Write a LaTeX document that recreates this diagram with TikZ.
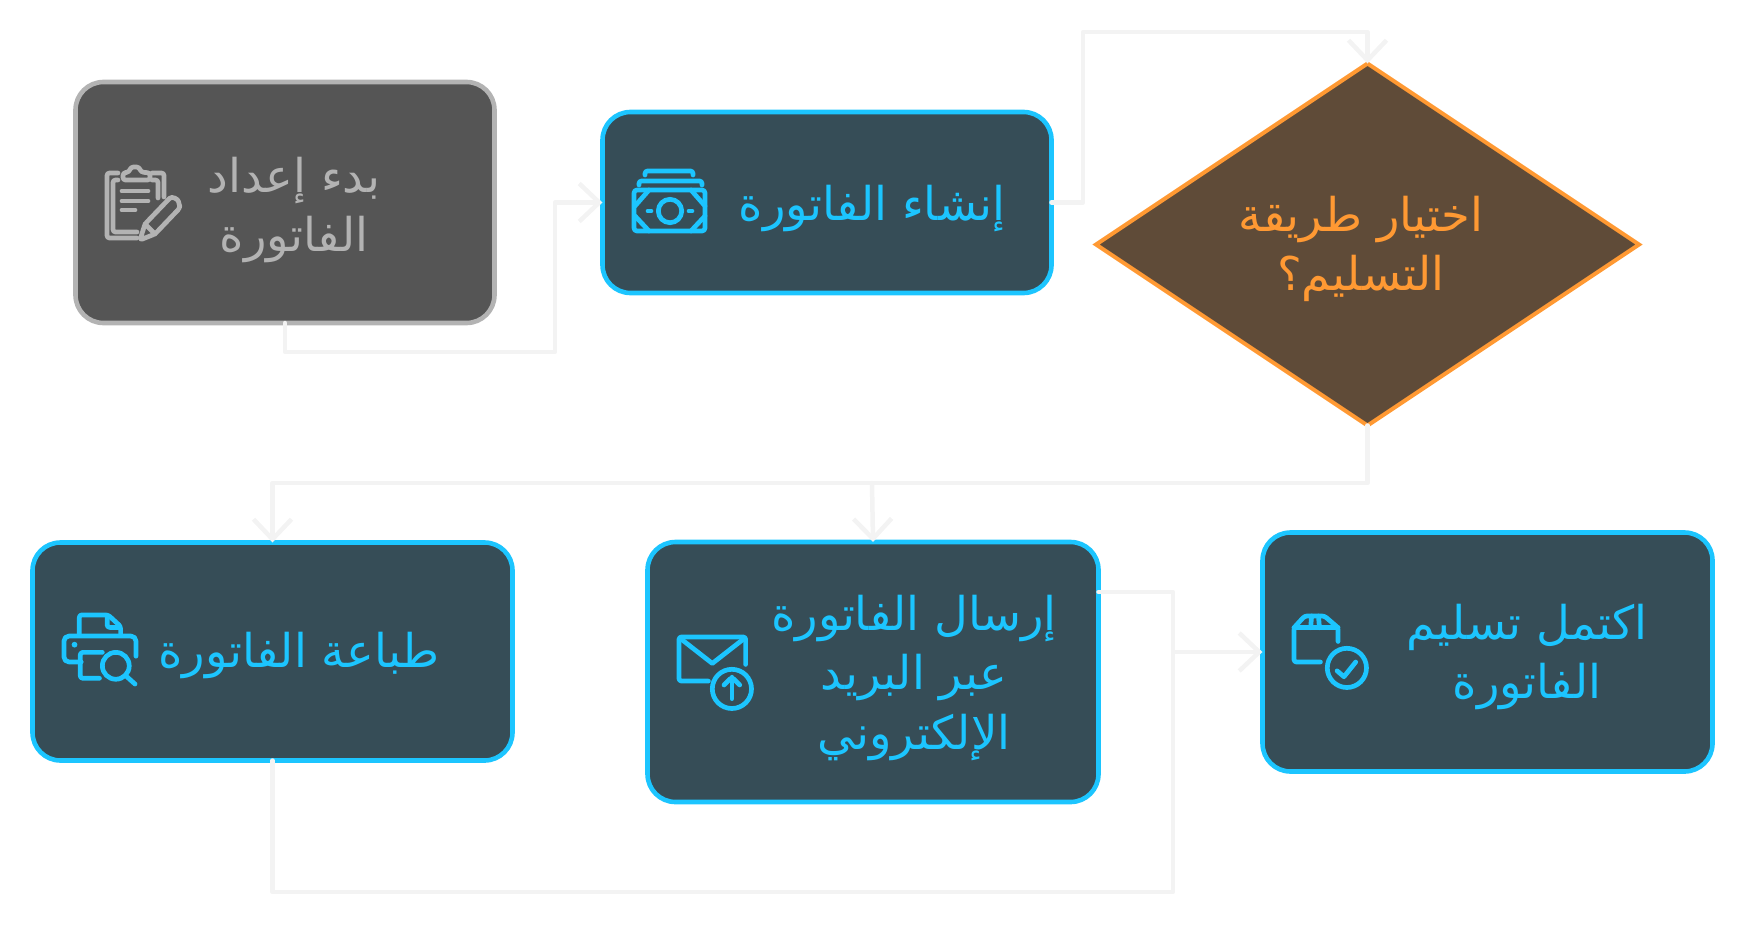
\documentclass[tikz,border=0pt]{standalone}
\usepackage{fontspec}
\usetikzlibrary{shapes.geometric,arrows.meta}
\TeXXeTstate=1
\newfontfamily\arabicfont[Script=Arabic]{DejaVu Sans}
\newcommand{\ar}[1]{\beginR #1\endR}
\definecolor{blueline}{HTML}{1CC5FF}
\definecolor{bluefill}{HTML}{364D57}
\definecolor{greyline}{HTML}{B3B3B3}
\definecolor{greyfill}{HTML}{555555}
\definecolor{orangeline}{HTML}{FF9933}
\definecolor{orangefill}{HTML}{5F4B38}
\definecolor{edgecol}{HTML}{F3F3F3}
\tikzset{
  x=1pt,y=-1pt,
  box/.style={rectangle,rounded corners=28pt,line width=4.6pt,inner sep=0pt,outer sep=0pt},
  bluebox/.style={box,draw=blueline,fill=bluefill},
  greybox/.style={box,draw=greyline,fill=greyfill},
  decision/.style={diamond,aspect=1.5,draw=orangeline,fill=orangefill,line width=4pt,inner sep=0pt,outer sep=0pt,minimum width=543pt,minimum height=362pt},
  label/.style={align=center,inner sep=0pt,font=\arabicfont\fontsize{46.5}{59.5}\selectfont},
  edge/.style={draw=edgecol,line width=4.5pt,line cap=round,line join=round},
  arrowedge/.style={edge,-{Straight Barb[length=20pt,width=38pt,line width=4.5pt]}},
  icon/.style={line width=4.7pt,line cap=round,line join=round,rounded corners=2.5pt},
}
\begin{document}
\begin{tikzpicture}
\useasboundingbox (0,0) rectangle (1745,926);
% nodes
\node[greybox,minimum width=419pt,minimum height=241pt] (b1) at (285,202.5) {};
\node[bluebox,minimum width=449pt,minimum height=181pt] (b2) at (827,202.5) {};
\node[decision] (d) at (1367.5,244.5) {};
\node[bluebox,minimum width=480pt,minimum height=218pt] (b3) at (272.5,651.5) {};
\node[bluebox,minimum width=451pt,minimum height=260pt] (b4) at (873,672) {};
\node[bluebox,minimum width=450pt,minimum height=239pt] (b5) at (1487.5,652) {};
% texts
\node[label,text=greyline] (t1) at (294,210) {\ar{بدء إعداد}\\\ar{الفاتورة}};
\node[label,text=blueline] (t2) at (872,209) {\ar{إنشاء الفاتورة}};
\node[label,text=orangeline] (t3) at (1361,249) {\ar{اختيار طريقة}\\\ar{التسليم؟}};
\node[label,text=blueline] (t4) at (299,656) {\ar{طباعة الفاتورة}};
\node[label,text=blueline] (t5) at (914,678) {\ar{إرسال الفاتورة}\\\ar{عبر البريد}\\\ar{الإلكتروني}};
\node[label,text=blueline] (t6) at (1527,657) {\ar{اكتمل تسليم}\\\ar{الفاتورة}};
% junctions
\coordinate (j1) at (555,352);
\coordinate (j2) at (1083,32);
\coordinate (j3) at (872,483);
\coordinate (j4) at (272.5,483);
\coordinate (j5) at (1173,892);
\coordinate (j6) at (1173,652);
% connectors
\draw[arrowedge] (b1.south) |- (j1) |- (b2.west);
\draw[arrowedge] (b2.east) -| (j2) -| (d.north);
\draw[arrowedge] (d.south) |- (j3) -- (j4) -- (b3.north);
\draw[arrowedge] (j3) -- (b4.north);
\draw[arrowedge] (b3.south) |- (j5) -- (j6) -- (b5.west);
\draw[edge] (b4.east |- 0,592) -| (j6);
% icon: clipboard and pencil
\begin{scope}[draw=greyline,icon]
\draw (118,173) -- (107,173) -- (107,238) -- (137,238);
\draw (118,180) -- (113,180) -- (113,232) -- (137,232);
\draw (152,173) -- (164,173) -- (164,197);
\draw (152,180) -- (158,180) -- (158,198);
\draw[fill=greyfill] (123,180) -- (123,173) -- (129,172) -- (131,167) -- (139,167) -- (141,172) -- (150,173) -- (150,180) -- cycle;
\draw (122,191) -- (148,191) (122,201) -- (148,201) (122,210) -- (135,210);
\draw (140,240) -- (145,224) -- (168,200) .. controls (172,196) and (178,199) .. (179,204) .. controls (180,207) and (178,210) .. (176,212) -- (155,234) -- cycle;
\draw (145,224) -- (155,234);
\end{scope}
% icon: banknotes
\begin{scope}[draw=blueline,icon]
\draw (645,175) -- (645,171) -- (693,171) -- (693,175);
\draw (639,185) -- (639,181) -- (702,181) -- (702,185);
\draw[rounded corners=3pt] (634,190) rectangle (705,231);
\draw (670,211) circle[radius=11.7];
\draw (648,211) -- (651,211) (689,211) -- (692,211);
\draw[rounded corners=0pt] (649,190) -- (635,206) (635,216) -- (649,231) (691,190) -- (705,206) (705,216) -- (691,231);
\end{scope}
% icon: printer
\begin{scope}[shift={(63,613)},scale=0.96,draw=blueline,icon]
\draw (17,22) -- (17,2) -- (47,2) -- (60,14) -- (60,22);
\draw (46,3) -- (46,15) -- (59,15);
\draw[rounded corners=5pt] (19,51) -- (1,51) -- (1,24) -- (76,24) -- (76,45);
\fill[blueline] (12,33) circle[radius=3];
\draw (41,41) -- (18,41) -- (18,68) -- (38,68);
\draw (55,55) circle[radius=14];
\draw (65,65) -- (75,74);
\end{scope}
% icon: envelope
\begin{scope}[shift={(678,635)},scale=0.98,draw=blueline,icon]
\draw (31,47) -- (1,47) -- (1,2) -- (69,2) -- (69,30);
\draw[rounded corners=0pt] (3,4) -- (35,29) -- (67,4);
\draw (55,55) circle[radius=20];
\draw (55,65) -- (55,43);
\draw (47,51) -- (55,43) -- (63,51);
\end{scope}
% icon: parcel
\begin{scope}[shift={(1292,614)},scale=0.98,draw=blueline,icon]
\draw (29,49) -- (2,49) -- (2,14) -- (13,2) -- (33,2) -- (47,14) -- (47,28);
\draw (2,14) -- (47,14);
\draw (20,2) -- (19,14) (27,2) -- (28,14);
\draw (56,55) circle[radius=20];
\draw[rounded corners=0pt] (46,58) -- (53,64) -- (65,49);
\end{scope}
\end{tikzpicture}
\end{document}
